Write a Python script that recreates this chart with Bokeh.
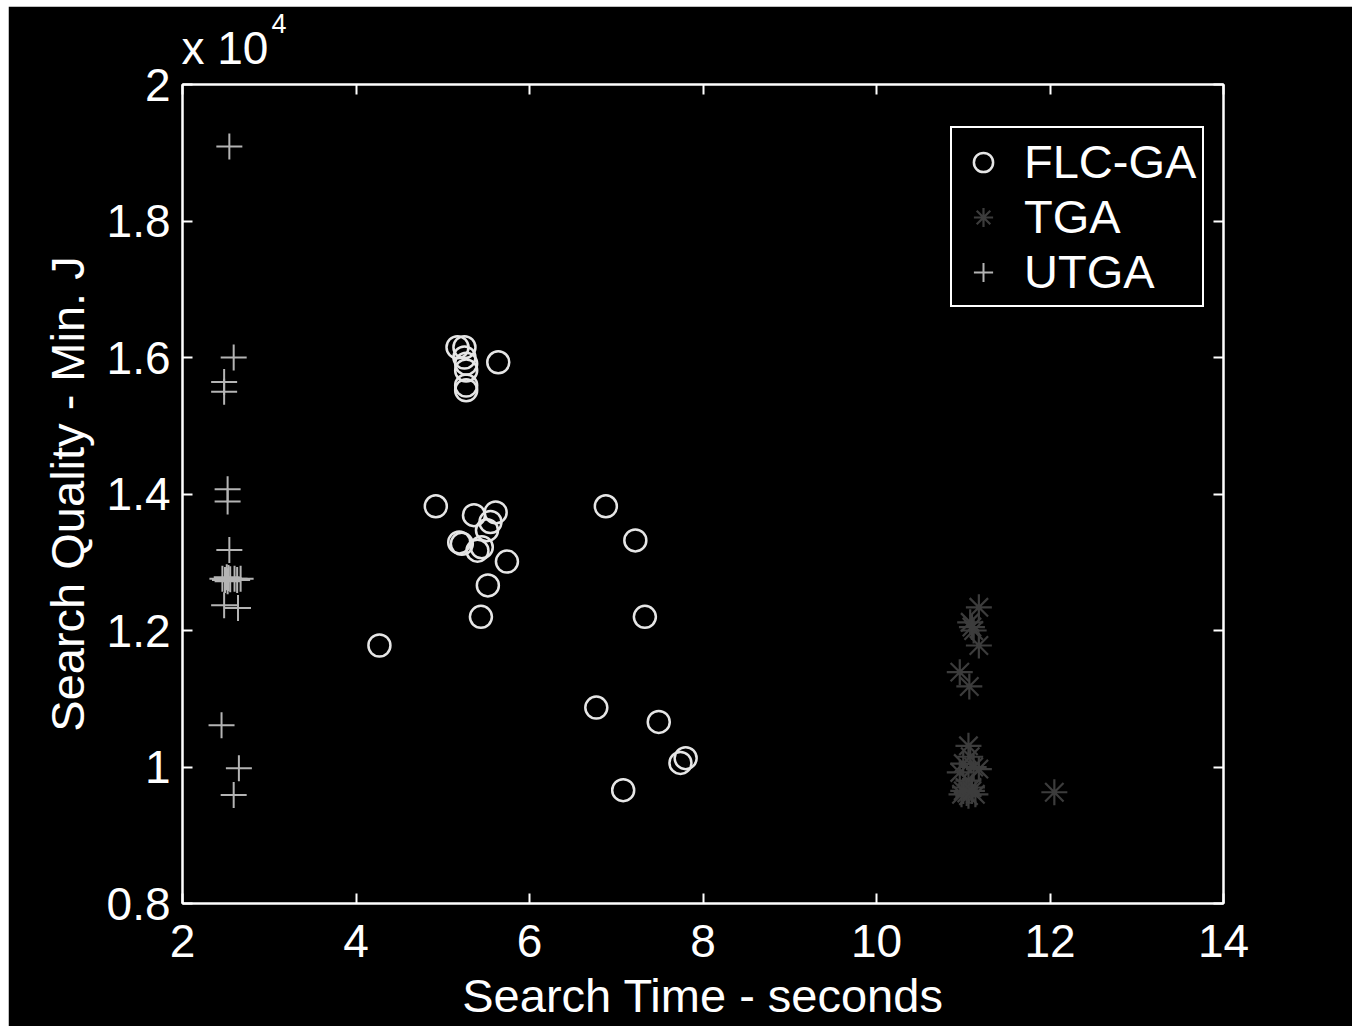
from bokeh.plotting import figure
from bokeh.models import Legend, LegendItem, LinearAxis, Title, FixedTicker
from bokeh.embed import file_html
from bokeh.resources import INLINE

# ---- data ----
x_ticks = [2, 4, 6, 8, 10, 12, 14]
y_ticks = [8000, 10000, 12000, 14000, 16000, 18000, 20000]
y_tick_labels = ["0.8", "1", "1.2", "1.4", "1.6", "1.8", "2"]

flc_x = [5.17, 5.25, 5.25, 5.27, 5.27, 5.27, 5.27, 5.64,
         4.92, 5.36, 5.61, 5.55, 5.51, 5.19, 5.22, 5.40, 5.45, 5.74, 5.52, 5.44, 4.27,
         6.88, 7.22, 7.33, 6.77, 7.49, 7.80, 7.74, 7.08]
flc_y = [16150, 16150, 16000, 15910, 15810, 15590, 15520, 15930,
         13820, 13690, 13730, 13590, 13470, 13290, 13270, 13170, 13220, 13010, 12660, 12200, 11780,
         13820, 13320, 12200, 10870, 10660, 10130, 10060, 9660]

tga_x = [11.18, 11.08, 11.12, 11.10, 11.18, 10.96, 11.07,
         11.06, 11.08, 11.18, 10.96, 11.06, 11.00, 11.12, 11.02, 11.10,
         11.04, 10.98, 11.14, 11.06, 11.00, 11.10, 12.05]
tga_y = [12340, 12120, 12000, 12050, 11780, 11390, 11180,
         10310, 10150, 9970, 9920, 9800, 10050, 10000, 9700, 9700,
         9620, 9600, 9600, 9580, 9650, 9650, 9630]

utga_x = [2.54, 2.59, 2.48, 2.48, 2.52, 2.52, 2.54,
          2.46, 2.49, 2.51, 2.52, 2.53, 2.55, 2.60, 2.63, 2.67,
          2.48, 2.64, 2.45, 2.65, 2.59]
utga_y = [19090, 16000, 15640, 15500, 14070, 13890, 13180,
          12760, 12740, 12780, 12720, 12770, 12750, 12760, 12740, 12760,
          12370, 12330, 10610, 9980, 9590]

exponent_base = "x 10"
exponent_power = "4"

FONT = "Liberation Sans"
TICK_FS = "46px"
LABEL_FS = "47px"

p = figure(width=1344, height=1020, x_range=(2, 14), y_range=(8000, 20000),
           output_backend="svg", toolbar_location=None,
           background_fill_color="black", border_fill_color="black",
           outline_line_color="white", outline_line_width=2,
           min_border_left=174, min_border_right=129,
           min_border_top=78, min_border_bottom=123)
p.margin = (6, 0, 0, 8)
p.grid.visible = False
p.title.visible = False

r_flc = p.scatter(flc_x, flc_y, marker="circle", size=22, fill_color=None,
                  line_color="#e6e6e6", line_width=2.5)
r_tga = p.scatter(tga_x, tga_y, marker="asterisk", size=26,
                  line_color="#3c3c3c", line_width=2.2)
r_utga = p.scatter(utga_x, utga_y, marker="cross", size=26,
                   line_color="#b4b4b4", line_width=2)


def style(ax, labels=True):
    ax.axis_line_color = "white"
    ax.axis_line_width = 2
    ax.major_tick_line_color = "white"
    ax.major_tick_line_width = 2
    ax.major_tick_in = 10
    ax.major_tick_out = 0
    ax.minor_tick_line_color = None
    ax.major_label_text_font = FONT
    if labels:
        ax.major_label_text_color = "white"
        ax.major_label_text_font_size = TICK_FS
    else:
        ax.major_label_text_color = None
        ax.major_label_text_font_size = "1px"
        ax.major_label_standoff = 0
    ax.axis_label_text_color = "white"
    ax.axis_label_text_font = FONT
    ax.axis_label_text_font_size = LABEL_FS
    ax.axis_label_text_font_style = "normal"


xa = p.xaxis[0]
xa.ticker = FixedTicker(ticks=x_ticks)
style(xa)
xa.major_label_standoff = 21
xa.axis_label = "Search Time - seconds"
xa.axis_label_standoff = 9

ya = p.yaxis[0]
ya.ticker = FixedTicker(ticks=y_ticks)
ya.major_label_overrides = {t: s for t, s in zip(y_ticks, y_tick_labels)}
style(ya)
ya.major_label_standoff = 12
ya.axis_label = "Search Quality - Min. J"
ya.axis_label_standoff = 10

top = LinearAxis(ticker=FixedTicker(ticks=x_ticks))
style(top, labels=False)
p.add_layout(top, "above")

p.add_layout(Title(text=exponent_base, align="left", offset=-1, standoff=21,
                   text_font=FONT, text_font_size=TICK_FS, text_font_style="normal",
                   text_color="white"), "above")
p.add_layout(Title(text=exponent_power, align="left", offset=89, standoff=-47,
                   text_font=FONT, text_font_size="27px", text_font_style="normal",
                   text_color="white"), "above")

right = LinearAxis(ticker=FixedTicker(ticks=y_ticks))
style(right, labels=False)
p.add_layout(right, "right")

legend = Legend(items=[LegendItem(label="FLC-GA", renderers=[r_flc]),
                       LegendItem(label="TGA", renderers=[r_tga]),
                       LegendItem(label="UTGA", renderers=[r_utga])],
                location=(768, 596), margin=0, padding=6, spacing=0,
                glyph_width=50, glyph_height=48, label_standoff=16,
                label_height=48,
                label_text_font=FONT, label_text_font_size=LABEL_FS,
                label_text_color="white",
                border_line_color="white", border_line_width=2,
                border_line_alpha=1.0,
                background_fill_color="black", background_fill_alpha=1.0)
p.add_layout(legend)

open("out.html", "w").write(file_html(p, INLINE))
